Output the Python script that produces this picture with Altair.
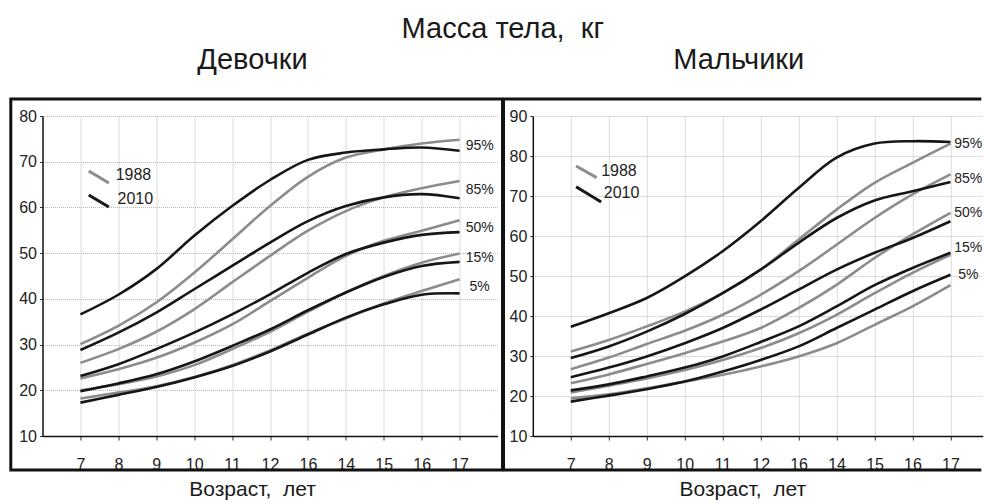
import json
import altair as alt
import pandas as pd

# ---- data -------------------------------------------------------------
ages = [7, 8, 9, 10, 11, 12, 13, 14, 15, 16, 17]
x_tick_labels = ["7", "8", "9", "10", "11", "12", "16", "14", "15", "16", "17"]
percentiles = ["5%", "15%", "50%", "85%", "95%"]
years = ["1988", "2010"]

# girls, body mass (kg) by age
girls_1988 = {
    "95%": [30.1, 34.1, 39.2, 45.7, 53.0, 60.3, 66.7, 70.9, 72.7, 74.0, 74.8],
    "85%": [26.0, 29.0, 32.8, 37.7, 43.6, 49.4, 54.9, 59.2, 62.2, 64.2, 65.8],
    "50%": [22.6, 24.6, 27.1, 30.4, 34.4, 39.5, 44.6, 49.4, 52.7, 54.9, 57.2],
    "15%": [20.0, 21.3, 23.0, 25.5, 29.0, 32.8, 37.2, 41.4, 45.0, 47.9, 49.9],
    "5%":  [18.2, 19.5, 20.9, 22.9, 25.5, 28.7, 32.4, 35.7, 39.0, 41.7, 44.3],
}
girls_2010 = {
    "95%": [36.6, 40.9, 46.5, 53.8, 60.3, 66.0, 70.4, 72.0, 72.7, 73.1, 72.4],
    "85%": [28.8, 32.6, 37.0, 42.1, 47.2, 52.3, 57.0, 60.3, 62.2, 62.9, 62.0],
    "50%": [23.1, 25.7, 29.0, 32.6, 36.6, 41.0, 45.7, 49.8, 52.3, 54.0, 54.6],
    "15%": [19.8, 21.5, 23.5, 26.3, 29.7, 33.3, 37.5, 41.4, 44.8, 47.2, 48.1],
    "5%":  [17.3, 19.0, 20.7, 22.8, 25.3, 28.5, 32.2, 35.9, 38.8, 40.9, 41.2],
}
# boys, body mass (kg) by age
boys_1988 = {
    "95%": [31.1, 34.0, 37.4, 41.1, 45.7, 51.6, 59.1, 66.6, 73.3, 78.3, 83.1],
    "85%": [26.7, 29.6, 33.0, 36.3, 40.3, 45.3, 51.2, 57.8, 64.5, 70.4, 75.4],
    "50%": [23.2, 25.4, 28.0, 30.7, 33.6, 37.0, 42.0, 47.8, 54.5, 60.4, 65.8],
    "15%": [20.9, 22.6, 24.4, 26.5, 29.0, 32.0, 35.7, 40.3, 45.7, 50.8, 55.3],
    "5%":  [19.4, 20.4, 21.9, 23.6, 25.3, 27.4, 29.9, 33.2, 37.8, 42.4, 47.7],
}
boys_2010 = {
    "95%": [37.3, 40.7, 44.5, 49.9, 56.2, 63.7, 72.0, 79.6, 83.1, 83.7, 83.5],
    "85%": [29.5, 32.4, 36.1, 40.5, 45.7, 51.6, 58.3, 64.5, 68.9, 71.2, 73.5],
    "50%": [24.7, 27.1, 29.9, 33.2, 37.0, 41.6, 46.6, 51.6, 55.8, 59.5, 63.7],
    "15%": [21.4, 22.9, 24.9, 27.1, 29.9, 33.5, 37.4, 42.4, 47.7, 52.0, 55.8],
    "5%":  [18.6, 20.1, 21.7, 23.6, 26.1, 29.0, 32.4, 37.0, 41.6, 46.2, 50.3],
}

# percentile captions at the right end of the curves (age, kg)
girls_pct_label_y = [42.6, 48.9, 55.6, 63.9, 73.4]
boys_pct_label_y = [50.2, 57.0, 65.7, 74.2, 83.1]
girls_pct_label_x = 17.53
boys_pct_label_x = 17.47

# legend key strokes (age, kg) and their captions
girls_key = {"x0": [7.22, 7.22], "y0": [67.97, 62.72], "x1": [7.75, 7.75], "y1": [65.35, 60.1],
             "tx": [7.93, 7.98], "ty": [67.1, 61.8]}
boys_key = {"x0": [7.14, 7.14], "y0": [77.5, 72.3], "x1": [7.68, 7.80], "y1": [74.6, 68.5],
            "tx": [7.80, 7.87], "ty": [76.2, 70.7]}

GRAY = "#8c8c8c"
BLACK = "#161616"
FONT = "Liberation Sans"
NB = "\u00a0"
color_scale = alt.Scale(domain=years, range=[GRAY, BLACK])


def long_table(s1988, s2010):
    rows = []
    for year, series in (("1988", s1988), ("2010", s2010)):
        for pct in percentiles:
            for a, w in zip(ages, series[pct]):
                rows.append({"year": year, "pct": pct, "age": a, "weight": w})
    return pd.DataFrame(rows)


def panel(s1988, s2010, key, pct_y, pct_x, ymax, xmax, width, title, right_open):
    height = 320
    xs = alt.Scale(domain=[6, xmax], nice=False, zero=False)
    ys = alt.Scale(domain=[10, ymax], nice=False, zero=False)
    df = long_table(s1988, s2010)

    x_axis = alt.Axis(
        values=ages,
        labelExpr=f"{json.dumps(x_tick_labels)}[datum.value - 7]",
        title=None, tickSize=4, labelPadding=16,
    )
    y_axis = alt.Axis(values=list(range(10, ymax + 1, 10)), title=None,
                      tickSize=3, labelPadding=3)

    def X(field):
        return alt.X(field, type="quantitative", scale=xs, axis=x_axis)

    def Y(field):
        return alt.Y(field, type="quantitative", scale=ys, axis=y_axis)

    def curves(year):
        return alt.Chart(df).transform_filter(alt.datum.year == year).mark_line(
            interpolate="catmull-rom", strokeWidth=2.6
        ).encode(
            x=X("age"), y=Y("weight"),
            color=alt.Color("year:N", scale=color_scale, legend=None),
            detail="pct:N",
        )

    kdf = pd.DataFrame({**key, "year": years})
    key_strokes = alt.Chart(kdf).mark_rule(strokeWidth=3).encode(
        x=X("x0"), y=Y("y0"), x2="x1:Q", y2="y1:Q",
        color=alt.Color("year:N", scale=color_scale, legend=None),
    )
    key_text = alt.Chart(kdf).mark_text(
        align="left", baseline="middle", fontSize=16, font=FONT, color="#222"
    ).encode(x=X("tx"), y=Y("ty"), text="year:N")

    pdf = pd.DataFrame({"pct": percentiles, "py": pct_y, "px": [pct_x] * len(percentiles)})
    pct_text = alt.Chart(pdf).mark_text(
        align="center", baseline="middle", fontSize=14, font=FONT, color="#222"
    ).encode(x=X("px"), y=Y("py"), text="pct:N")

    one = pd.DataFrame({"t": [0]})
    if right_open:
        frame = [
            alt.Chart(one).mark_rule(color="#111", strokeWidth=3).encode(
                x=alt.value(-29.3), x2=alt.value(width - 1.5), y=alt.value(-17), y2=alt.value(-17)),
            alt.Chart(one).mark_rule(color="#111", strokeWidth=3).encode(
                x=alt.value(-29.3), x2=alt.value(width - 1.5), y=alt.value(354), y2=alt.value(354)),
            alt.Chart(one).mark_rule(color="#111", strokeWidth=3).encode(
                x=alt.value(-29.3), x2=alt.value(-29.3), y=alt.value(-17), y2=alt.value(354)),
        ]
    else:
        frame = [
            alt.Chart(one).mark_rect(filled=False, stroke="#111", strokeWidth=3).encode(
                x=alt.value(-31.7), x2=alt.value(460), y=alt.value(-17), y2=alt.value(354)),
        ]

    head = alt.Chart(one).mark_text(
        text=title, fontSize=29, font=FONT, align="center", baseline="alphabetic", color="#1a1a1a"
    ).encode(x=alt.value(210 if not right_open else 206), y=alt.value(-47))
    foot = alt.Chart(one).mark_text(
        text=f"Возраст,{NB} лет", fontSize=21, font=FONT, align="center", baseline="alphabetic",
        color="#1a1a1a"
    ).encode(x=alt.value(210), y=alt.value(380))

    layers = frame + [curves("1988"), curves("2010"), key_strokes, key_text, pct_text, head, foot]
    if not right_open:
        layers.append(
            alt.Chart(one).mark_text(
                text=f"Масса тела,{NB} кг", fontSize=29, font=FONT, align="center",
                baseline="alphabetic", color="#1a1a1a"
            ).encode(x=alt.value(460.3), y=alt.value(-78))
        )
    return alt.layer(*layers).properties(width=width, height=height)


girls = panel(girls_1988, girls_2010, girls_key, girls_pct_label_y, girls_pct_label_x,
              80, 18, 455, "Девочки", False)
boys_width = 450
boys = panel(boys_1988, boys_2010, boys_key, boys_pct_label_y, boys_pct_label_x,
             90, 6 + boys_width / 37.97, boys_width, "Мальчики", True)

chart = alt.hconcat(
    girls, boys, spacing=35.3, bounds="flush",
    padding={"left": 8.5, "top": 14, "right": 0, "bottom": 0},
    background="white",
).configure_view(stroke="transparent").configure_axis(
    labelFont=FONT, labelFontSize=16, labelColor="#222",
    domainColor="#111", domainWidth=1.5, tickColor="#333",
    gridColor="#b8b8b8", gridDash=[1, 1], gridWidth=1,
)

chart.save("out.html", embed_options={"renderer": "svg", "actions": False})
